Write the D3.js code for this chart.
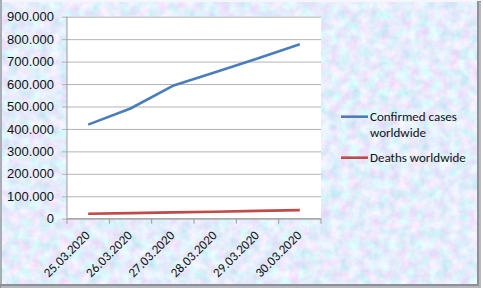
<!DOCTYPE html>
<html>
<head>
<meta charset="utf-8">
<script src="https://cdn.jsdelivr.net/npm/d3@7"></script>
<style>
  body { margin: 0; background: #fff; }
  svg { display: block; font-family: Carlito, Lato, sans-serif; }
</style>
</head>
<body>
<div id="chart"></div>
<script>
const dates = ['25.03.2020', '26.03.2020', '27.03.2020', '28.03.2020', '29.03.2020', '30.03.2020'];
const confirmed = [419000, 491000, 592000, 652000, 714000, 777000];
const deaths = [22000, 25000, 28000, 31000, 35000, 38000];
const yTicks = [0, 100000, 200000, 300000, 400000, 500000, 600000, 700000, 800000, 900000];
const seriesNames = [['Confirmed cases', 'worldwide'], ['Deaths worldwide']];
const seriesColors = ['#4a7ebb', '#be4b48'];

const w = 483;
const h = 291;
const margin = { top: 16.7, right: 162, bottom: 72.3, left: 67 };
const width = w - margin.left - margin.right;
const height = h - margin.top - margin.bottom;

const svg = d3
  .select('#chart')
  .append('svg')
  .attr('width', w)
  .attr('height', h);

// mottled paper texture for the chart area
const defs = svg.append('defs');
const filter = defs
  .append('filter')
  .attr('id', 'paper')
  .attr('x', 0)
  .attr('y', 0)
  .attr('width', '100%')
  .attr('height', '100%');
filter
  .append('feTurbulence')
  .attr('type', 'fractalNoise')
  .attr('baseFrequency', 0.1)
  .attr('numOctaves', 4)
  .attr('seed', 7);
filter
  .append('feColorMatrix')
  .attr('type', 'matrix')
  .attr(
    'values',
    '0.55 0.3 0 0 0.355 ' +
      '-0.25 0.35 0 0 0.8 ' +
      '0.08 0.15 0 0 0.855 ' +
      '0 0 0 0 1'
  );

svg
  .append('rect')
  .attr('width', 480)
  .attr('height', 287)
  .attr('fill', '#d2e2f8');
svg
  .append('rect')
  .attr('width', 480)
  .attr('height', 287)
  .attr('filter', 'url(#paper)');

// bevel frame
svg.append('rect').attr('x', 0).attr('y', 0).attr('width', 480).attr('height', 2).attr('fill', '#f4f6fb');
svg.append('rect').attr('x', 0).attr('y', 0).attr('width', 2).attr('height', 287).attr('fill', '#a9adb5');
svg.append('rect').attr('x', 477).attr('y', 1).attr('width', 4).attr('height', 287).attr('fill', '#8d9099');
svg.append('rect').attr('x', 0).attr('y', 284).attr('width', 481).attr('height', 4).attr('fill', '#8d9099');
svg.append('rect').attr('x', 479).attr('y', 2).attr('width', 2).attr('height', 286).attr('fill', '#b6b8bd');
svg.append('rect').attr('x', 1).attr('y', 286).attr('width', 480).attr('height', 2).attr('fill', '#b6b8bd');

const g = svg
  .append('g')
  .attr('transform', 'translate(' + margin.left + ',' + margin.top + ')');

// Setup ranges
const x = d3.scaleBand().domain(dates).range([0, width]).padding(0);
const y = d3.scaleLinear().domain([0, 900000]).range([height, 0]);

const fmt = d3.formatLocale({
  decimal: ',',
  thousands: '.',
  grouping: [3],
  currency: ['', '€']
}).format(',d');

g.append('rect')
  .attr('width', width)
  .attr('height', height)
  .attr('fill', '#fff');

// gridlines + y axis
const yAxis = g.append('g').call(
  d3
    .axisLeft(y)
    .tickValues(yTicks)
    .tickSize(-width - 5)
    .tickSizeOuter(0)
    .tickPadding(8)
    .tickFormat(fmt)
);
yAxis.select('.domain').remove();
yAxis
  .selectAll('.tick line')
  .attr('x1', -5)
  .attr('x2', width)
  .attr('stroke', '#b3b3b3');
yAxis
  .selectAll('.tick text')
  .attr('x', -13)
  .attr('fill', '#111')
  .style('font-size', '13px');

g.append('line')
  .attr('y1', 0)
  .attr('y2', height)
  .attr('stroke', '#9a9a9a');

// x axis with ticks at category edges
const xAxis = g.append('g').attr('transform', 'translate(0,' + height + ')');
xAxis
  .append('line')
  .attr('x1', 0)
  .attr('x2', width)
  .attr('stroke', '#9a9a9a');
xAxis
  .selectAll('.edge')
  .data(dates.concat(['end']))
  .enter()
  .append('line')
  .attr('class', 'edge')
  .attr('x1', (d, i) => (i < dates.length ? x(d) : width))
  .attr('x2', (d, i) => (i < dates.length ? x(d) : width))
  .attr('y1', 0)
  .attr('y2', 5)
  .attr('stroke', '#9a9a9a');
xAxis
  .selectAll('.lbl')
  .data(dates)
  .enter()
  .append('text')
  .attr('class', 'lbl')
  .attr(
    'transform',
    d => 'translate(' + (x(d) + x.bandwidth() / 2 + 2.5) + ',17.5) rotate(-45)'
  )
  .attr('text-anchor', 'end')
  .attr('fill', '#111')
  .style('font-size', '13px')
  .text(d => d);

// Build the lines
const line = d3
  .line()
  .x((d, i) => x(dates[i]) + x.bandwidth() / 2)
  .y(d => y(d));

[confirmed, deaths].forEach((s, i) => {
  g.append('path')
    .datum(s)
    .attr('fill', 'none')
    .attr('stroke', seriesColors[i])
    .attr('stroke-width', 2.6)
    .attr('stroke-linejoin', 'round')
    .attr('d', line);
});

// Add legend
const legend = svg.append('g').attr('transform', 'translate(341,0)');
const legendY = [116.7, 157.7];
seriesNames.forEach((lines, i) => {
  legend
    .append('line')
    .attr('x1', 0)
    .attr('x2', 27)
    .attr('y1', legendY[i])
    .attr('y2', legendY[i])
    .attr('stroke', seriesColors[i])
    .attr('stroke-width', 2.6);
  const t = legend
    .append('text')
    .attr('x', 29)
    .attr('y', legendY[i] + 4.3)
    .attr('fill', '#111')
    .style('font-size', '13px');
  lines.forEach((l, j) => {
    t.append('tspan')
      .attr('x', 29)
      .attr('dy', j === 0 ? 0 : 15.5)
      .text(l);
  });
});
</script>
</body>
</html>
